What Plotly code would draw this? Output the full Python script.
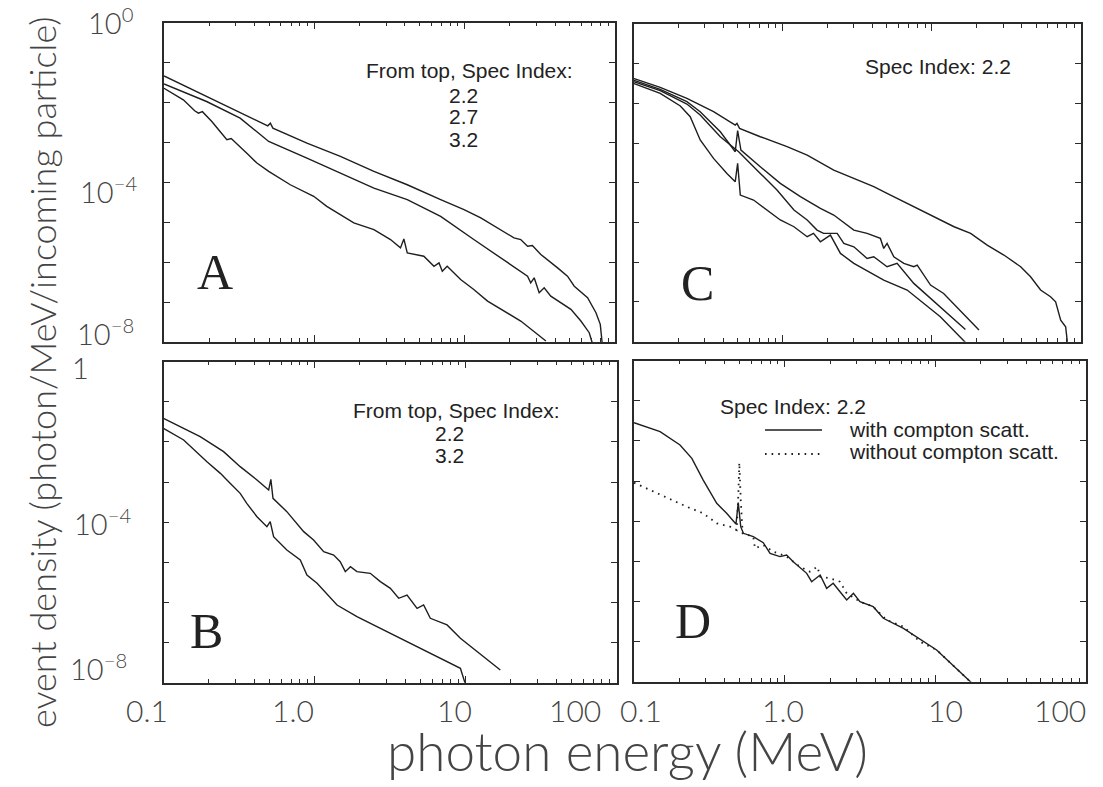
import plotly.graph_objects as go

W, H = 1103, 787

# ---------------- data ----------------
# Panel A : spectral indices 2.2 / 2.7 / 3.2
a22_e = [0.1, 0.192, 0.321, 0.49, 0.51, 0.53, 0.893, 1.49, 2.49, 4.15, 6.92, 9.9, 12.8,
         17.4, 21.3, 23.6, 26.2, 28.2, 32.1, 41.5, 48.3, 53.6, 65.7, 74.7, 79.8, 82.5]
a22_y = [0.0464, 0.0141, 5.4e-3, 2.61e-3, 3.04e-3, 2.28e-3, 9.6e-4, 4.47e-4, 1.88e-4, 8.7e-5,
         3.69e-5, 2.07e-5, 1.29e-5, 6.56e-6, 4.06e-6, 3.69e-6, 2.51e-6, 2.61e-6, 1.56e-6, 7.2e-7,
         4.47e-7, 2.5e-7, 1.29e-7, 5.4e-8, 2.77e-8, 8e-9]

a27_e = [0.1, 0.192, 0.321, 0.497, 0.893, 1.49, 2.49, 4.15, 6.92, 11.5, 19.2, 26.2, 27.5,
         29.0, 31.3, 33.8, 37.4, 40.5, 50.9, 59.3, 67.4, 71.5]
a27_y = [0.0293, 0.0106, 4.06e-3, 1.06e-3, 4.06e-4, 1.71e-4, 7.2e-5, 3.69e-5, 1.41e-5, 3.69e-6,
         9.6e-7, 4.47e-7, 3.04e-7, 4.06e-7, 1.71e-7, 2.28e-7, 1.41e-7, 1.17e-7, 6.56e-8, 3.35e-8,
         1.71e-8, 8e-9]

a32_e = [0.1, 0.1345, 0.16, 0.1694, 0.18, 0.208, 0.236, 0.262, 0.28, 0.321, 0.36, 0.415, 0.497,
         0.692, 0.99, 1.21, 1.49, 1.83, 2.49, 3.21, 3.74, 3.94, 4.15, 5.35, 6.25, 6.75, 7.1,
         7.65, 9.4, 11.5, 14.2, 23.6, 34.7]
a32_y = [0.0228, 0.01167, 6.2e-3, 5.4e-3, 5.9e-3, 3.35e-3, 1.88e-3, 1.17e-3, 1.25e-3, 7.9e-4,
         5.1e-4, 3.04e-4, 1.88e-4, 8.7e-5, 4.47e-5, 2.5e-5, 1.56e-5, 9.6e-6, 6.56e-6, 3.69e-6,
         2.28e-6, 3.83e-6, 1.71e-6, 1.41e-6, 7.9e-7, 9.6e-7, 5.96e-7, 7.9e-7, 3.69e-7, 2.07e-7,
         1.06e-7, 3.35e-8, 1.06e-8]

# Panel B : spectral indices 2.2 / 3.2
b22_e = [0.1, 0.175, 0.250, 0.322, 0.416, 0.497, 0.514, 0.531, 0.656, 0.848, 0.986, 1.15,
         1.34, 1.48, 1.60, 1.73, 1.91, 2.34, 2.73, 3.18, 3.61, 4.10, 4.78, 5.28, 5.85, 7.55,
         9.25, 17.0]
b22_y = [0.0387, 0.0135, 5.72e-3, 2.42e-3, 1.13e-3, 6.34e-4, 1.17e-3, 3.94e-4, 1.83e-4,
         5.81e-5, 3.6e-5, 1.84e-5, 1.52e-5, 1.04e-5, 5.85e-6, 7.8e-6, 5.85e-6, 5.32e-6, 3.30e-6,
         2.25e-6, 1.27e-6, 1.53e-6, 7.14e-7, 8.65e-7, 4.03e-7, 2.75e-7, 1.28e-7, 2.07e-8]

b32_e = [0.1, 0.136, 0.194, 0.238, 0.270, 0.322, 0.356, 0.416, 0.484, 0.509, 0.536, 0.656,
         0.805, 0.891, 1.04, 1.41, 1.91, 3.18, 5.28, 9.25, 10.1]
b32_y = [0.0218, 0.0112, 3.22e-3, 1.65e-3, 1.02e-3, 5.24e-4, 2.95e-4, 1.37e-4, 7.74e-5,
         1.03e-4, 4.36e-5, 2.03e-5, 1.14e-5, 4.83e-6, 3.0e-6, 8.65e-7, 4.43e-7, 1.70e-7,
         6.54e-8, 2.29e-8, 8e-9]

# Panel C : spectral index 2.2, four configurations
c1_e = [0.1, 0.151, 0.228, 0.344, 0.481, 0.494, 0.514, 0.708, 1.07, 1.46, 2.20, 3.0, 4.08,
        5.01, 6.83, 8.39, 11.4, 14.1, 18.2, 21.2, 23.5, 30.4, 39.4, 45.9, 53.6, 62.5, 67.6,
        73.1, 78.9, 81.5]
c1_y = [0.0428, 0.0254, 0.0134, 6.19e-3, 2.86e-3, 3.15e-3, 2.36e-3, 1.45e-3, 8.13e-4, 5.01e-4,
        2.10e-4, 1.29e-4, 8.0e-5, 5.43e-5, 3.04e-5, 2.07e-5, 1.16e-5, 7.85e-6, 5.33e-6, 3.62e-6,
        2.71e-6, 1.52e-6, 7.72e-7, 4.33e-7, 2.0e-7, 1.36e-7, 1.01e-7, 3.5e-8, 2.38e-8, 8e-9]

c2_e = [0.1, 0.151, 0.228, 0.280, 0.382, 0.481, 0.499, 0.525, 0.708, 0.964, 1.315, 1.79, 2.20,
        3.0, 3.68, 4.52, 4.76, 5.01, 5.56, 6.49, 7.57, 7.98, 9.8, 12.0, 20.7]
c2_y = [0.0388, 0.0226, 0.01106, 6.19e-3, 1.94e-3, 6.08e-4, 2.06e-3, 6.70e-4, 2.55e-4, 9.7e-5,
        4.48e-5, 2.28e-5, 1.55e-5, 6.47e-6, 5.33e-6, 3.99e-6, 2.23e-6, 2.99e-6, 1.38e-6,
        9.37e-7, 7.72e-7, 8.5e-7, 2.67e-7, 1.64e-7, 1.96e-8]

c3_e = [0.1, 0.151, 0.228, 0.280, 0.382, 0.507, 0.708, 0.916, 1.19, 1.46, 1.70, 1.88, 2.32,
        2.57, 3.0, 3.68, 4.08, 5.01, 5.85, 7.57, 16.8]
c3_y = [0.0353, 0.0209, 9.66e-3, 5.1e-3, 1.45e-3, 6.08e-4, 1.73e-4, 6.59e-5, 2.07e-5, 1.16e-5,
        6.47e-6, 5.33e-6, 5.33e-6, 2.99e-6, 2.46e-6, 1.25e-6, 1.38e-6, 7.72e-7, 9.37e-7,
        2.94e-7, 2.04e-8]

c4_e = [0.1, 0.151, 0.206, 0.240, 0.280, 0.344, 0.423, 0.481, 0.499, 0.520, 0.638, 0.785,
        0.964, 1.19, 1.46, 1.61, 1.79, 2.09, 2.44, 3.0, 4.76, 6.83, 11.4, 17.6]
c4_y = [0.032, 0.0179, 8.6e-3, 4.63e-3, 1.20e-3, 4.13e-4, 1.73e-4, 1.07e-4, 3.09e-4, 4.93e-5,
        3.69e-5, 2.07e-5, 1.16e-5, 7.85e-6, 4.40e-6, 5.33e-6, 3.29e-6, 4.84e-6, 1.67e-6,
        9.37e-7, 3.56e-7, 2.0e-7, 4.25e-8, 8e-9]

# Panel D : spectral index 2.2, with / without Compton scattering
d_with_e = [0.1, 0.149, 0.202, 0.242, 0.288, 0.354, 0.412, 0.475, 0.492, 0.511, 0.532, 0.619,
            0.721, 0.800, 0.931, 1.03, 1.14, 1.40, 1.51, 1.72, 1.90, 2.10, 2.33, 2.58, 2.86,
            3.16, 3.87, 4.52, 6.14, 10.2, 17.6]
d_with_y = [0.0285, 0.0170, 7.92e-3, 3.68e-3, 1.06e-3, 2.79e-4, 1.57e-4, 8.51e-5, 2.90e-4,
            7.31e-5, 4.99e-5, 4.12e-5, 2.92e-5, 1.58e-5, 1.31e-5, 1.44e-5, 9.8e-6, 5.02e-6,
            3.11e-6, 4.56e-6, 2.12e-6, 2.83e-6, 1.75e-6, 1.09e-6, 1.60e-6, 9.9e-7, 7.41e-7,
            3.80e-7, 2.14e-7, 6.18e-8, 9e-9]

d_without_e = [0.1, 0.134, 0.224, 0.288, 0.354, 0.434, 0.480, 0.492, 0.500, 0.511, 0.526,
               0.619, 0.635, 0.721, 0.841, 1.03, 1.26, 1.47, 1.65, 1.72, 2.0, 2.33, 2.58, 3.16,
               3.87, 4.75, 6.14, 7.91, 10.2, 17.6]
d_without_y = [9.12e-4, 5.44e-4, 2.30e-4, 1.57e-4, 8.85e-5, 7.31e-5, 6.04e-5, 4.08e-4, 2.87e-3,
               3.37e-4, 4.99e-5, 4.12e-5, 2.11e-5, 2.55e-5, 1.74e-5, 1.31e-5, 7.36e-6, 5.52e-6,
               7.36e-6, 4.15e-6, 3.77e-6, 3.11e-6, 1.60e-6, 9.9e-7, 7.41e-7, 3.45e-7, 2.36e-7,
               9.96e-8, 6.18e-8, 9e-9]

x_major = [1, 10]
x_minor = [0.2, 0.3, 0.4, 0.5, 0.6, 0.7, 0.8, 0.9, 2, 3, 4, 5, 6, 7, 8, 9,
           20, 30, 40, 50, 60, 70, 80, 90]
y_ticks = [1, 1e-1, 1e-2, 1e-3, 1e-4, 1e-5, 1e-6, 1e-7, 1e-8]
x_ticklabels = ["0.1", "1.0", "10", "100"]

# ---------------- figure ----------------
fig = go.Figure()
LC = "#1e1e1e"
DOT = "1.6px,5px"


def add(e, y, xa, ya, dash="solid", width=1.4):
    fig.add_trace(go.Scatter(x=e, y=y, mode="lines", xaxis=xa, yaxis=ya,
                             line=dict(color=LC, width=width, dash=dash),
                             showlegend=False, hoverinfo="skip"))


add(a22_e, a22_y, "x", "y")
add(a27_e, a27_y, "x", "y")
add(a32_e, a32_y, "x", "y")
add(b22_e, b22_y, "x2", "y2")
add(b32_e, b32_y, "x2", "y2")
add(c1_e, c1_y, "x3", "y3")
add(c2_e, c2_y, "x3", "y3")
add(c3_e, c3_y, "x3", "y3")
add(c4_e, c4_y, "x3", "y3")
add(d_without_e, d_without_y, "x4", "y4", dash=DOT, width=1.8)
add(d_with_e, d_with_y, "x4", "y4")


def dx(a, b):
    return [a / W, b / W]


def dy(top, bottom):
    return [1 - bottom / H, 1 - top / H]


AX = dict(showline=True, linecolor="#2a2a2a", linewidth=1.5, mirror="allticks",
          ticks="inside", tickcolor="#2a2a2a", tickwidth=1.2, showgrid=False,
          zeroline=False, showticklabels=False, type="log")


def xax(dom, anchor):
    d = dict(AX)
    d.update(domain=dom, anchor=anchor, range=[-1, 2], tickmode="array",
             tickvals=x_major, ticklen=7,
             minor=dict(tickmode="array", tickvals=x_minor, ticks="inside",
                        ticklen=4, tickcolor="#2a2a2a", tickwidth=1.1, showgrid=False))
    return d


def yax(dom, anchor):
    d = dict(AX)
    d.update(domain=dom, anchor=anchor, range=[-8, 0], tickmode="array",
             tickvals=y_ticks, ticklen=6)
    return d


fig.update_layout(
    width=W, height=H, autosize=False,
    margin=dict(l=0, r=0, t=0, b=0, pad=0),
    paper_bgcolor="white", plot_bgcolor="white",
    xaxis=xax(dx(164, 615), "y"), yaxis=yax(dy(22.7, 342), "x"),
    xaxis2=xax(dx(163.5, 616.5), "y2"), yaxis2=yax(dy(361.7, 682.7), "x2"),
    xaxis3=xax(dx(633.5, 1081), "y3"), yaxis3=yax(dy(24, 341.7), "x3"),
    xaxis4=xax(dx(634, 1086), "y4"), yaxis4=yax(dy(360.7, 681.7), "x4"),
)

anns = []


def ann(text, px, py, size, family="Lato", color="#444", weight=300,
        xanchor="center", yanchor="middle", angle=0):
    anns.append(dict(text=text, x=px / W, y=1 - py / H, xref="paper", yref="paper",
                     showarrow=False, xanchor=xanchor, yanchor=yanchor, textangle=angle,
                     font=dict(family=family, size=size, color=color, weight=weight)))


TF = 29
# y tick labels
ann("10<sup>0</sup>", 136, 21, TF, xanchor="right")
ann("10<sup>−4</sup>", 139, 190, TF, xanchor="right")
ann("10<sup>−8</sup>", 136, 332, TF, xanchor="right")
ann("1", 91, 367, TF, xanchor="right")
ann("10<sup>−4</sup>", 133, 522, TF, xanchor="right")
ann("10<sup>−8</sup>", 129, 667, TF, xanchor="right")
# x tick labels
for lab, cx in zip(x_ticklabels, [147, 293, 454, 575]):
    ann(lab, cx, 710, 30)
for lab, cx in zip(x_ticklabels, [641, 783, 945, 1060]):
    ann(lab, cx, 710, 30)

# axis titles
ann("photon energy (MeV)", 627, 750, 53)
ann("event density (photon/MeV/incoming particle)", 42, 372, 36, angle=-90)

# panel letters
SF = "Liberation Serif"
ann("A", 215, 272, 50, family=SF, color="#222", weight=400)
ann("B", 206, 631, 50, family=SF, color="#222", weight=400)
ann("C", 697, 283, 50, family=SF, color="#222", weight=400)
ann("D", 693, 621, 50, family=SF, color="#222", weight=400)

# in-panel texts
NF = "Liberation Sans"
ann("From top, Spec Index:", 469, 71, 21, family=NF, color="#222", weight=400)
ann("2.2", 463, 95, 21, family=NF, color="#222", weight=400)
ann("2.7", 463, 117, 21, family=NF, color="#222", weight=400)
ann("3.2", 463, 140, 21, family=NF, color="#222", weight=400)
ann("From top, Spec Index:", 456, 410, 21, family=NF, color="#222", weight=400)
ann("2.2", 449, 433, 21, family=NF, color="#222", weight=400)
ann("3.2", 449, 455, 21, family=NF, color="#222", weight=400)
ann("Spec Index: 2.2", 938, 66, 21, family=NF, color="#222", weight=400)
ann("Spec Index: 2.2", 793, 406, 21, family=NF, color="#222", weight=400)
ann("with compton scatt.", 847, 429, 21, family=NF, color="#222", weight=400, xanchor="left")
ann("without compton scatt.", 847, 451, 21, family=NF, color="#222", weight=400, xanchor="left")

fig.update_layout(annotations=anns)

# legend samples in panel D
fig.add_shape(type="line", xref="paper", yref="paper", x0=765 / W, x1=822 / W,
              y0=1 - 430 / H, y1=1 - 430 / H, line=dict(color=LC, width=1.4))
fig.add_shape(type="line", xref="paper", yref="paper", x0=765 / W, x1=822 / W,
              y0=1 - 454 / H, y1=1 - 454 / H, line=dict(color=LC, width=1.8, dash=DOT))

fig.write_html("out.html")
